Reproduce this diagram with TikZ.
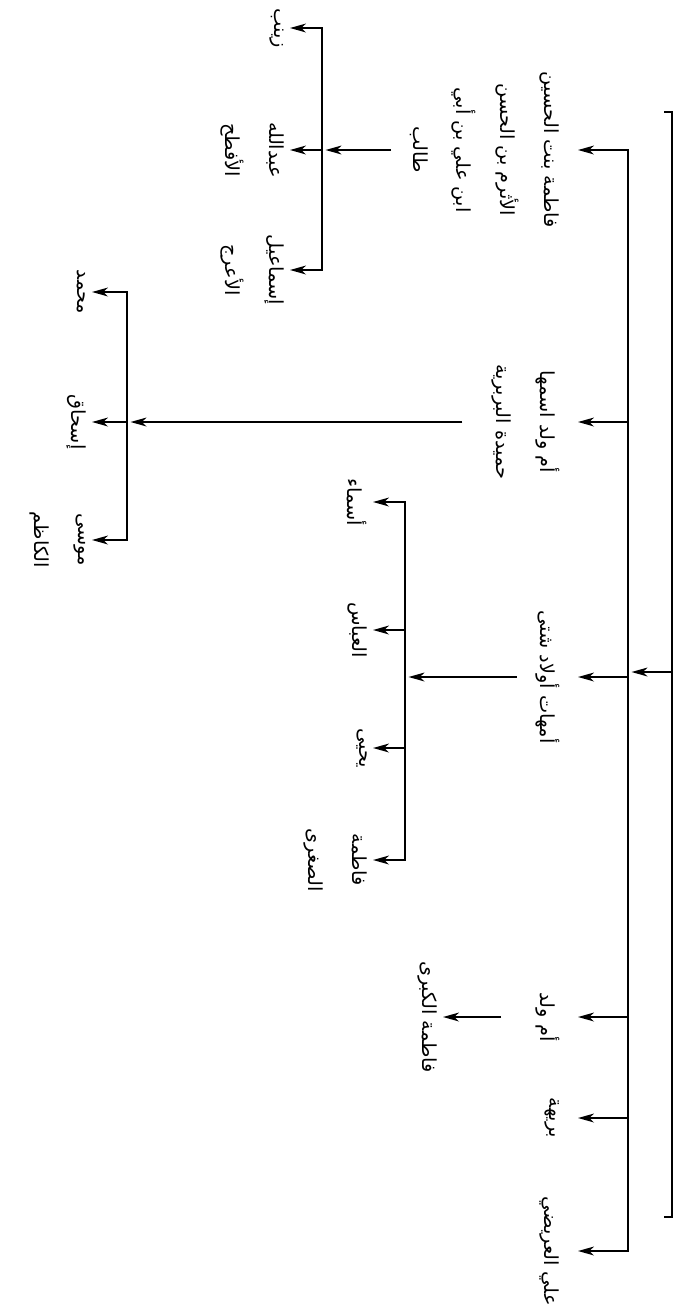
\documentclass[tikz,border=0pt]{standalone}
\usepackage{fontspec}
\usepackage{tikz}
\usetikzlibrary{arrows.meta}
\TeXXeTstate=1
\newfontfamily\arabicfont[Script=Arabic]{DejaVu Sans}
\newcommand{\arln}[1]{\beginR #1\endR}

\begin{document}
\begin{tikzpicture}[x=0.02cm, y=-0.02cm, >={Stealth[length=9pt, width=5pt, inset=2.5pt]}, line width=1.1pt,
  txt/.style={rotate=-90, anchor=north, align=center, inner xsep=1pt,
              font=\arabicfont\fontsize{11}{25}\selectfont},
  mother/.style={txt, inner ysep=10pt},
  child/.style={txt, inner ysep=3pt}]
  \useasboundingbox (0,0) rectangle (674,1313);
  % root line and trunk
  \coordinate (rt) at (672,112);
  \coordinate (rb) at (672,1217);
  \coordinate (rin) at (672,672);
  \coordinate (tt) at (628,150);
  \coordinate (tb) at (628,1251);
  \coordinate (tin) at (628,672);
  \draw (664,112) -- (rt) -- (rb) -- (664,1217);
  \draw[->, shorten >=2pt] (rin) -- (tin);
  % mothers
  \node[mother] (m1) at (578,150) {\arln{فاطمة بنت الحسين}\\\arln{الأثرم بن الحسن}\\\arln{ابن علي بن أبي}\\\arln{طالب}};
  \node[mother] (m2) at (578,422) {\arln{أم ولد اسمها}\\\arln{حميدة البربرية}};
  \node[mother] (m3) at (578,677) {\arln{أمهات أولاد شتى}};
  \node[mother] (m4) at (578,1017) {\arln{أم ولد}};
  \node[mother] (m5) at (578,1118) {\arln{بريهة}};
  \node[mother] (m6) at (578,1251) {\arln{علي العريضي}};
  \draw[<->] (m1.north) -- (tt) -- (tb) -- (m6.north);
  \draw[->] (tt |- m2.north) -- (m2.north);
  \draw[->] (tt |- m3.north) -- (m3.north);
  \draw[->] (tt |- m4.north) -- (m4.north);
  \draw[->] (tt |- m5.north) -- (m5.north);
  % children of m1
  \coordinate (ab) at (322,150);
  \node[child] (zaynab) at (290,28) {\arln{زينب}};
  \node[child] (abdallah) at (290,150) {\arln{عبدالله}\\\arln{الأفطح}};
  \node[child] (ismail) at (290,270) {\arln{إسماعيل}\\\arln{الأعرج}};
  \draw[->, shorten >=2pt] (m1.south) -- (ab);
  \draw[<->] (zaynab.north) -- (ab |- zaynab.north) -- (ab |- ismail.north) -- (ismail.north);
  \draw[->] (ab) -- (abdallah.north);
  % children of m2
  \coordinate (bb) at (127,422);
  \node[child] (muhammad) at (92,292) {\arln{محمد}};
  \node[child] (ishaq) at (92,422) {\arln{إسحاق}};
  \node[child] (musa) at (92,540) {\arln{موسى}\\\arln{الكاظم}};
  \draw[->, shorten >=2pt, shorten <=6pt] (m2.south) -- (bb);
  \draw[<->] (muhammad.north) -- (bb |- muhammad.north) -- (bb |- musa.north) -- (musa.north);
  \draw[->] (bb) -- (ishaq.north);
  % children of m3
  \coordinate (cb) at (405,677);
  \node[child] (asma) at (373,502) {\arln{أسماء}};
  \node[child] (abbas) at (373,630) {\arln{العباس}};
  \node[child] (yahya) at (373,748) {\arln{يحيى}};
  \node[child] (fsughra) at (373,860) {\arln{فاطمة}\\\arln{الصغرى}};
  \draw[->, shorten >=2pt] (m3.south) -- (cb);
  \draw[<->] (asma.north) -- (cb |- asma.north) -- (cb |- fsughra.north) -- (fsughra.north);
  \draw[->] (cb |- abbas.north) -- (abbas.north);
  \draw[->] (cb |- yahya.north) -- (yahya.north);
  % child of m4
  \node[child] (fkubra) at (443,1017) {\arln{فاطمة الكبرى}};
  \draw[->, shorten <=9pt] (m4.south) -- (fkubra.north);
\end{tikzpicture}
\end{document}
